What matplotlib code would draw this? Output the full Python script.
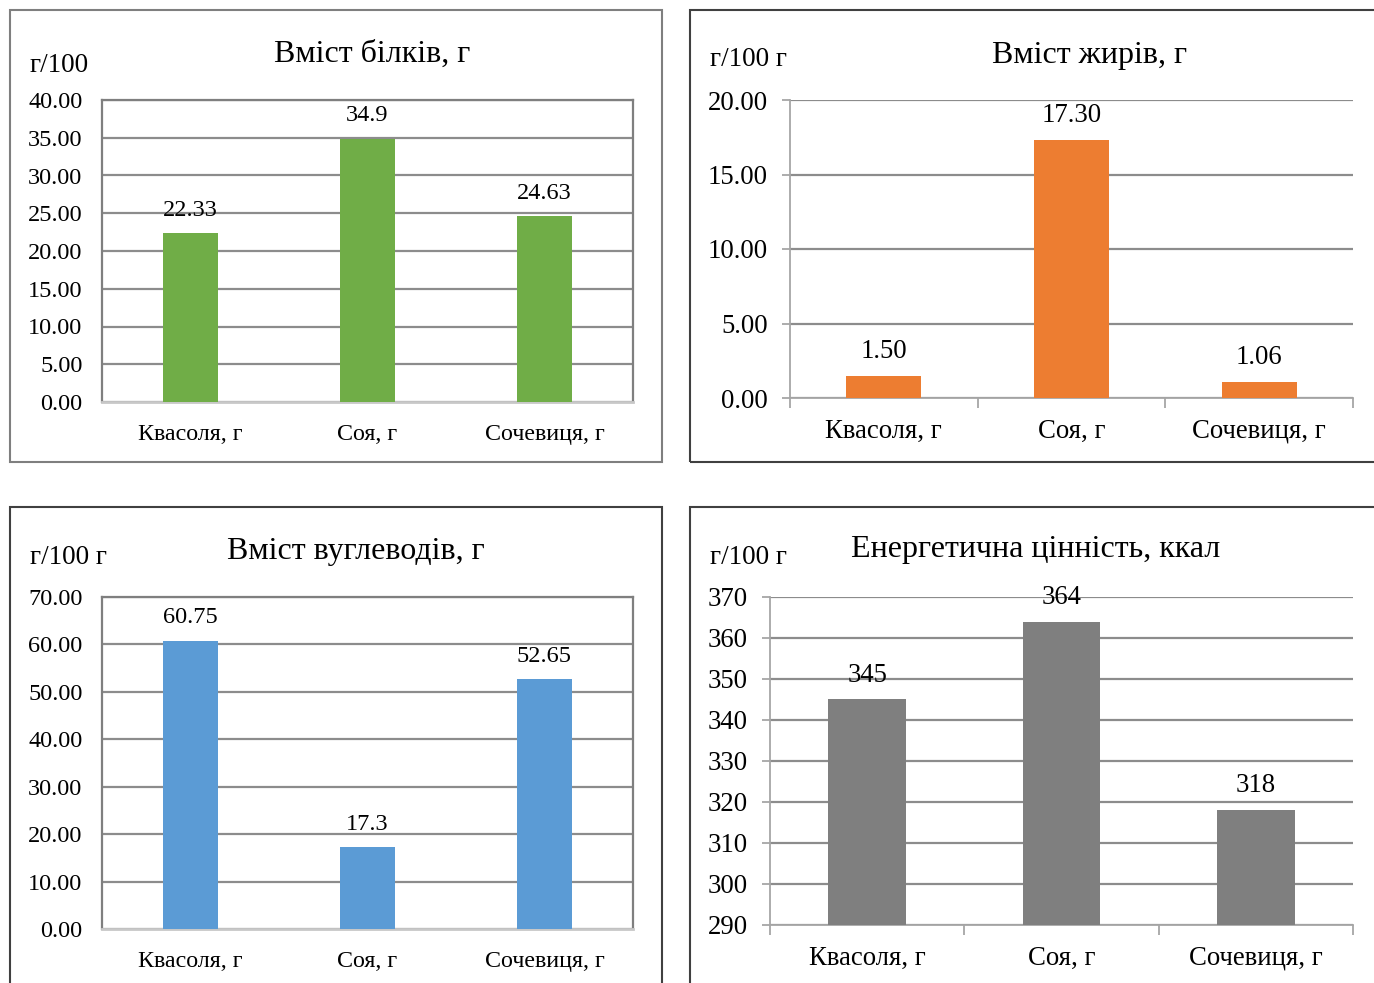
import matplotlib
matplotlib.use("Agg")
import matplotlib.pyplot as plt
from matplotlib.patches import Rectangle
from matplotlib.ticker import FormatStrFormatter, FixedLocator

plt.rcParams['font.family'] = ['Liberation Serif', 'DejaVu Serif']

categories = ["Квасоля, г", "Соя, г", "Сочевиця, г"]

protein = [22.33, 34.9, 24.63]
fat = [1.50, 17.30, 1.06]
carbs = [60.75, 17.3, 52.65]
energy = [345, 364, 318]

titles = ["Вміст білків, г", "Вміст жирів, г", "Вміст вуглеводів, г",
          "Енергетична цінність, ккал"]
unit_labels = ["г/100", "г/100 г", "г/100 г", "г/100 г"]

W, H = 1374, 983
fig = plt.figure(figsize=(W / 100, H / 100), dpi=100)


def px_axes(x0, y0, x1, y1):
    return fig.add_axes([x0 / W, 1 - y1 / H, (x1 - x0) / W, (y1 - y0) / H])


def frame(x0, y0, x1, y1, color):
    fig.patches.append(Rectangle((x0 / W, 1 - y1 / H), (x1 - x0) / W, (y1 - y0) / H,
                                 transform=fig.transFigure, fill=False,
                                 edgecolor=color, linewidth=1.5))


GRID = '#8C8C8C'


def draw(ax, values, color, ylim, step, fmt, label_fmt, width, boxed, fs_tick, fs_cat,
         label_offset):
    x = range(len(values))
    ax.set_axisbelow(True)
    ax.bar(x, values, width=width, color=color, zorder=3)
    ax.set_xlim(-0.5, 2.5)
    ax.set_ylim(*ylim)
    ticks = [ylim[0] + i * step for i in range(int(round((ylim[1] - ylim[0]) / step)) + 1)]
    ax.set_yticks(ticks)
    ax.yaxis.set_major_formatter(FormatStrFormatter(fmt))
    ax.set_xticks(list(x))
    ax.set_xticklabels(categories, fontsize=fs_cat)
    ax.grid(axis='y', color=GRID, linewidth=1.6)
    for v, xi in zip(values, x):
        ax.annotate(label_fmt(v), (xi, v), xytext=(0, label_offset), textcoords='offset points',
                    ha='center', va='center', fontsize=fs_tick, zorder=4)
    if boxed:
        for s in ('left', 'top', 'right'):
            ax.spines[s].set_color('#7F7F7F')
            ax.spines[s].set_linewidth(1.6)
        ax.spines['bottom'].set_color('#C8C8C8')
        ax.spines['bottom'].set_linewidth(2)
        ax.tick_params(axis='both', length=0, labelsize=fs_tick)
        ax.tick_params(axis='x', labelsize=fs_cat)
        ax.tick_params(axis='y', pad=14)
        ax.tick_params(axis='x', pad=15.5)
    else:
        ax.spines['top'].set_visible(False)
        ax.spines['right'].set_visible(False)
        ax.spines['left'].set_color('#A6A6A6')
        ax.spines['bottom'].set_color('#A6A6A6')
        ax.spines['left'].set_linewidth(1.3)
        ax.spines['bottom'].set_linewidth(1.3)
        ax.tick_params(axis='y', length=6, color='#A6A6A6', width=1.3,
                       labelsize=fs_tick, pad=10)
        ax.tick_params(axis='x', which='major', length=0, labelsize=fs_cat, pad=15)
        ax.xaxis.set_minor_locator(FixedLocator([-0.5, 0.5, 1.5, 2.5]))
        ax.tick_params(axis='x', which='minor', length=7, color='#A6A6A6', width=1.3)


# panel frames
frame(10, 10, 662, 462, '#7F7F7F')
frame(690, 10, 1380, 462, '#404040')
frame(10, 507, 662, 990, '#404040')
frame(690, 507, 1380, 990, '#404040')

ax1 = px_axes(102, 100, 633, 402)
draw(ax1, protein, '#70AD47', (0, 40), 5, '%.2f', lambda v: f"{v:g}", 0.31, True,
     17.5, 17.3, 16.5)
ax2 = px_axes(790, 100, 1353, 398)
draw(ax2, fat, '#ED7D31', (0, 20), 5, '%.2f', lambda v: f"{v:.2f}", 0.40, False,
     19.3, 19.3, 17.5)
ax3 = px_axes(102, 597, 633, 929)
draw(ax3, carbs, '#5B9BD5', (0, 70), 10, '%.2f', lambda v: f"{v:g}", 0.31, True,
     17.5, 17.3, 16.5)
ax4 = px_axes(770, 597, 1353, 925)
draw(ax4, energy, '#7F7F7F', (290, 370), 10, '%d', lambda v: f"{v:g}", 0.40, False,
     19.3, 19.3, 17.5)

# titles and unit labels
title_pos = [(372, 54), (1090, 55), (356, 551), (1036, 550)]
unit_pos = [(30, 65), (710, 60), (30, 558), (710, 558)]
title_fs = [23, 23, 23, 23]
unit_fs = [19.5, 19.5, 19.5, 19.5]
for t, (tx, ty), fs in zip(titles, title_pos, title_fs):
    fig.text(tx / W, 1 - ty / H, t, ha='center', va='center', fontsize=fs)
for u, (ux, uy), fs in zip(unit_labels, unit_pos, unit_fs):
    fig.text(ux / W, 1 - uy / H, u, ha='left', va='center', fontsize=fs)

fig.savefig("out.png", dpi=100)
